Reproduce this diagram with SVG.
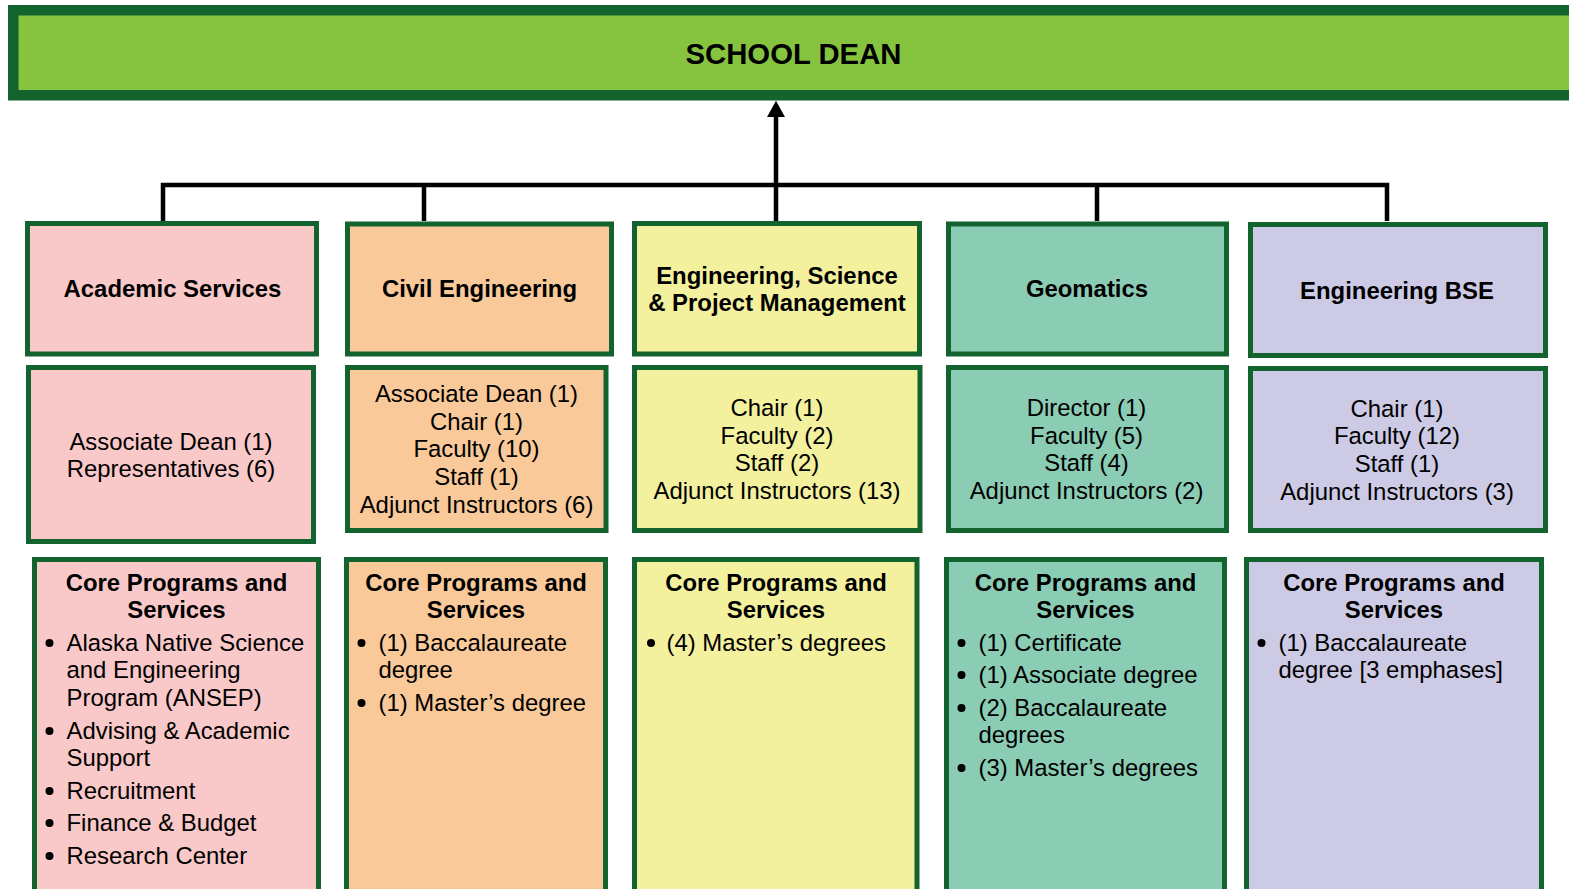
<svg xmlns="http://www.w3.org/2000/svg" width="1569" height="889" viewBox="0 0 1569 889">
<style>
text{font-family:"Liberation Sans",Arial,sans-serif;fill:#000;}
.h{font-size:23.9px;font-weight:bold;text-anchor:middle;}
.r{font-size:23.9px;text-anchor:middle;}
.l{font-size:23.9px;}
.box{stroke:#13632f;stroke-width:5;}
.pink{fill:#f9c8c8;}
.org{fill:#f9c99a;}
.yel{fill:#f3f09e;}
.tea{fill:#8bcdb4;}
.lav{fill:#cccae4;}
.con{fill:none;stroke:#000;stroke-width:4.5;}
</style>
<defs>
<marker id="arr" markerWidth="4" markerHeight="4" refX="0" refY="2" orient="auto" markerUnits="strokeWidth">
<path d="M0,0 L3.6,2 L0,4 z" fill="#000"/>
</marker>
</defs>
<rect width="1569" height="889" fill="#fff"/>

<g id="dean">
<rect x="13.25" y="10.25" width="1580" height="85" fill="#86c440" stroke="#13632f" stroke-width="10.5"/>
<text x="793.5" y="63.5" style="font-size:29.3px;font-weight:bold;text-anchor:middle">SCHOOL DEAN</text>
</g>

<g id="connectors">
<path class="con" d="M163,221 V185 H1387 V221"/>
<line class="con" x1="424" y1="185" x2="424" y2="221"/>
<line class="con" x1="1097" y1="185" x2="1097" y2="221"/>
<line class="con" x1="776" y1="221" x2="776" y2="117" marker-end="url(#arr)"/>
</g>

<g id="academic-services">
<rect class="box pink" x="27.5" y="223.5" width="289" height="130.5"/>
<text class="h" x="172.5" y="296.5">Academic Services</text>
</g>
<g id="academic-services-staff">
<rect class="box pink" x="28.5" y="367.5" width="285" height="174"/>
<text class="r" x="171" y="450">Associate Dean (1)</text>
<text class="r" x="171" y="477">Representatives (6)</text>
</g>
<g id="academic-services-programs">
<rect class="box pink" x="34.5" y="559.5" width="284" height="400"/>
<text class="h" x="176.5" y="591">Core Programs and</text>
<text class="h" x="176.5" y="618">Services</text>
<circle cx="49.5" cy="643" r="4"/><text class="l" x="66.5" y="650.5">Alaska Native Science</text>
<text class="l" x="66.5" y="678">and Engineering</text>
<text class="l" x="66.5" y="705.5">Program (ANSEP)</text>
<circle cx="49.5" cy="731" r="4"/><text class="l" x="66.5" y="738.5">Advising &amp; Academic</text>
<text class="l" x="66.5" y="766">Support</text>
<circle cx="49.5" cy="791" r="4"/><text class="l" x="66.5" y="798.5">Recruitment</text>
<circle cx="49.5" cy="823" r="4"/><text class="l" x="66.5" y="830.5">Finance &amp; Budget</text>
<circle cx="49.5" cy="856" r="4"/><text class="l" x="66.5" y="863.5">Research Center</text>
</g>

<g id="civil-engineering">
<rect class="box org" x="347.5" y="224" width="264" height="130"/>
<text class="h" x="479.5" y="297">Civil Engineering</text>
</g>
<g id="civil-engineering-staff">
<rect class="box org" x="347.5" y="367.5" width="258.5" height="163"/>
<text class="r" x="476.5" y="402">Associate Dean (1)</text>
<text class="r" x="476.5" y="429.5">Chair (1)</text>
<text class="r" x="476.5" y="457">Faculty (10)</text>
<text class="r" x="476.5" y="484.5">Staff (1)</text>
<text class="r" x="476.5" y="512.5">Adjunct Instructors (6)</text>
</g>
<g id="civil-engineering-programs">
<rect class="box org" x="346.5" y="559.5" width="259" height="400"/>
<text class="h" x="476" y="591">Core Programs and</text>
<text class="h" x="476" y="618">Services</text>
<circle cx="361.5" cy="643" r="4"/><text class="l" x="378.5" y="650.5">(1) Baccalaureate</text>
<text class="l" x="378.5" y="678">degree</text>
<circle cx="361.5" cy="703" r="4"/><text class="l" x="378.5" y="710.5">(1) Master’s degree</text>
</g>

<g id="espm">
<rect class="box yel" x="634.5" y="223.5" width="285" height="130.5"/>
<text class="h" x="777" y="283.5">Engineering, Science</text>
<text class="h" x="777" y="310.5">&amp; Project Management</text>
</g>
<g id="espm-staff">
<rect class="box yel" x="634.5" y="367.5" width="285.5" height="163"/>
<text class="r" x="777" y="416">Chair (1)</text>
<text class="r" x="777" y="443.5">Faculty (2)</text>
<text class="r" x="777" y="471">Staff (2)</text>
<text class="r" x="777" y="498.5">Adjunct Instructors (13)</text>
</g>
<g id="espm-programs">
<rect class="box yel" x="634.5" y="559.5" width="282.5" height="400"/>
<text class="h" x="776" y="591">Core Programs and</text>
<text class="h" x="776" y="618">Services</text>
<circle cx="651" cy="643" r="4"/><text class="l" x="666.5" y="650.5">(4) Master’s degrees</text>
</g>

<g id="geomatics">
<rect class="box tea" x="948.5" y="224" width="278" height="130"/>
<text class="h" x="1087" y="297">Geomatics</text>
</g>
<g id="geomatics-staff">
<rect class="box tea" x="948.5" y="367.5" width="278" height="163"/>
<text class="r" x="1086.5" y="416">Director (1)</text>
<text class="r" x="1086.5" y="443.5">Faculty (5)</text>
<text class="r" x="1086.5" y="471">Staff (4)</text>
<text class="r" x="1086.5" y="498.5">Adjunct Instructors (2)</text>
</g>
<g id="geomatics-programs">
<rect class="box tea" x="946.5" y="559.5" width="278" height="400"/>
<text class="h" x="1085.5" y="591">Core Programs and</text>
<text class="h" x="1085.5" y="618">Services</text>
<circle cx="961.5" cy="643" r="4"/><text class="l" x="978.5" y="650.5">(1) Certificate</text>
<circle cx="961.5" cy="675" r="4"/><text class="l" x="978.5" y="682.5">(1) Associate degree</text>
<circle cx="961.5" cy="708" r="4"/><text class="l" x="978.5" y="715.5">(2) Baccalaureate</text>
<text class="l" x="978.5" y="743">degrees</text>
<circle cx="961.5" cy="768" r="4"/><text class="l" x="978.5" y="775.5">(3) Master’s degrees</text>
</g>

<g id="engineering-bse">
<rect class="box lav" x="1250.5" y="224.5" width="295" height="131"/>
<text class="h" x="1397" y="299">Engineering BSE</text>
</g>
<g id="engineering-bse-staff">
<rect class="box lav" x="1250.5" y="368.5" width="295" height="162"/>
<text class="r" x="1397" y="416.5">Chair (1)</text>
<text class="r" x="1397" y="444">Faculty (12)</text>
<text class="r" x="1397" y="471.5">Staff (1)</text>
<text class="r" x="1397" y="499.5">Adjunct Instructors (3)</text>
</g>
<g id="engineering-bse-programs">
<rect class="box lav" x="1246.5" y="559.5" width="295" height="400"/>
<text class="h" x="1394" y="591">Core Programs and</text>
<text class="h" x="1394" y="618">Services</text>
<circle cx="1261.5" cy="643" r="4"/><text class="l" x="1278.5" y="650.5">(1) Baccalaureate</text>
<text class="l" x="1278.5" y="678">degree [3 emphases]</text>
</g>
</svg>
